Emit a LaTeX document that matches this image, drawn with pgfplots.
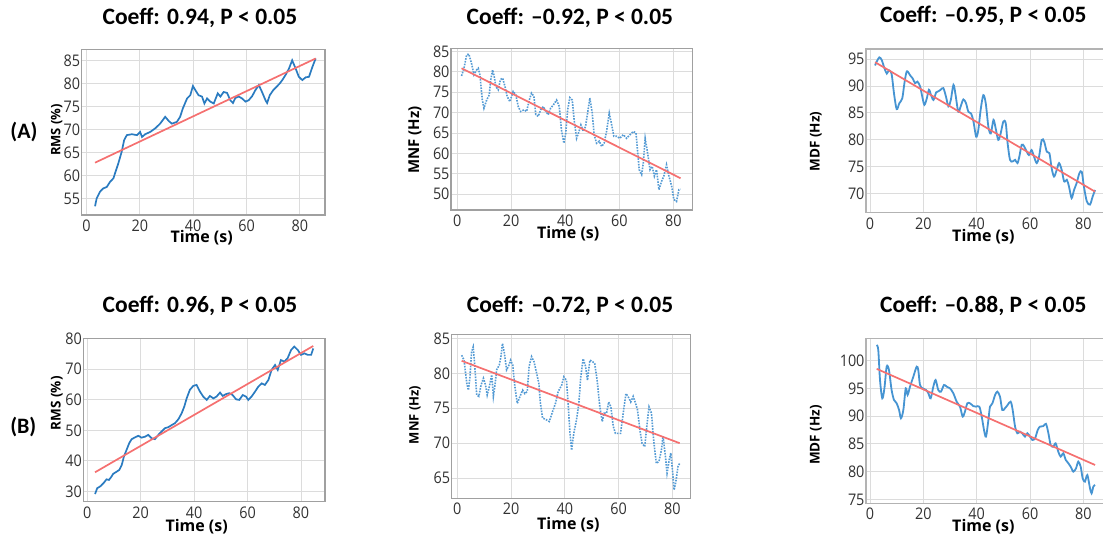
\documentclass[border=0pt]{standalone}
\usepackage{fontspec}
\usepackage{pgfplots}
\pgfplotsset{compat=1.18}
\setmainfont{Carlito}
\newfontfamily\tickfont[FakeStretch=0.9]{Open Sans}
\newfontfamily\labfont{Open Sans}

\definecolor{lineblue}{RGB}{42,123,192}
\definecolor{dotblue}{RGB}{85,155,212}
\definecolor{softblue}{RGB}{70,148,210}
\definecolor{fitred}{RGB}{245,112,112}
\definecolor{framegray}{RGB}{160,160,160}
\definecolor{gridgray}{RGB}{220,220,220}
\definecolor{tickgray}{RGB}{50,50,50}

\pgfplotsset{
  panel/.style={
    scale only axis, anchor=north west,
    axis line style={draw=framegray, line width=1.5pt},
    grid=major, major grid style={draw=gridgray, line width=0.9pt},
    major tick length=0pt,
    xtick={0,20,40,60,80},
    /pgf/number format/assume math mode=true,
    tick label style={font=\tickfont\fontsize{16}{16}\selectfont, text=tickgray},
    xticklabel style={yshift=-1.5pt},
    yticklabel style={xshift=2pt},
    title style={font=\bfseries\fontsize{23.5}{23.5}\selectfont, anchor=center},
    xlabel style={font=\labfont\bfseries\fontsize{16}{16}\selectfont, anchor=center},
    ylabel style={font=\labfont\bfseries\fontsize{13}{13}\selectfont, anchor=center},
    xlabel={Time (s)},
  },
  fitline/.style={draw=fitred, line width=1.7pt, no markers},
}

\begin{document}
\begin{tikzpicture}
\useasboundingbox (0pt,0pt) rectangle (1103pt,-539pt);

% ---- row A ----
\begin{axis}[panel, at={(81.7pt,-49.3pt)}, width=243.3pt, height=165.7pt,
  xmin=-1.8, xmax=89.4, ymin=51.4, ymax=87.5, ytick={55,60,...,85},
  title={Coeff: 0.94, P < 0.05}, title style={at={(axis description cs:0.486,1.153)}},
  xlabel style={at={(axis description cs:0.493,-0.135)}},
  ylabel={RMS (\%)}, ylabel style={at={(axis description cs:-0.103,0.513)}}]
\addplot[draw=lineblue, line width=1.7pt, no markers] coordinates {
(3.2,53.3)(3.8,55.0)(5.1,56.5)(6.3,57.2)(7.6,57.5)(8.8,58.6)(10.1,59.4)(10.7,60.5)(11.9,62.6)(13.2,65.2)(14.1,67.7)(15.1,68.8)(17.0,69.0)(18.9,68.8)(20.1,69.5)(20.8,68.4)(22.0,69.0)(23.9,69.5)(25.8,70.3)(27.6,71.3)(29.5,72.8)(30.8,71.9)(32.0,71.3)(33.9,71.7)(35.1,72.8)(36.1,74.6)(37.7,76.8)(38.9,77.5)(39.9,79.5)(40.8,78.6)(42.0,77.5)(43.3,77.2)(44.2,75.7)(45.2,76.8)(46.4,76.1)(47.7,75.7)(49.2,77.9)(50.2,77.2)(51.4,78.2)(52.7,78.0)(53.9,76.4)(54.9,75.8)(55.8,76.9)(57.1,77.2)(58.3,76.8)(59.6,76.1)(60.8,76.4)(62.1,77.3)(63.3,78.6)(64.6,79.7)(65.8,78.2)(67.1,76.4)(67.7,75.8)(68.7,77.5)(70.0,78.6)(71.2,79.3)(72.5,80.1)(73.4,80.8)(74.6,81.9)(75.9,83.3)(77.1,85.1)(78.4,83.3)(79.6,81.5)(80.9,80.8)(82.2,81.4)(83.4,81.5)(84.7,83.7)(85.9,85.5)};
\addplot[fitline] coordinates {(3.2,62.8)(85.9,85.5)};
\end{axis}

\begin{axis}[panel, at={(451pt,-48.3pt)}, width=241.7pt, height=161.7pt,
  xmin=-2.3, xmax=87.2, ymin=46.1, ymax=85.8, ytick={50,55,...,85},
  title={Coeff: –0.92, P < 0.05}, title style={at={(axis description cs:0.492,1.150)}},
  xlabel style={at={(axis description cs:0.485,-0.144)}},
  ylabel={MNF (Hz)}, ylabel style={at={(axis description cs:-0.149,0.433)}, font=\labfont\bfseries\fontsize{15}{15}\selectfont}]
\addplot[draw=dotblue, line width=1.6pt, dash pattern=on 1.6pt off 1.2pt, no markers] coordinates {
(1.6,79.0)(2.5,80.9)(3.5,84.2)(4.3,84.4)(5.3,82.1)(6.2,79.3)(7.2,80.5)(7.8,80.9)(8.4,79.3)(9.3,73.1)(9.9,71.1)(10.9,73.1)(11.9,74.4)(12.3,77.6)(13.1,80.5)(13.7,78.9)(14.3,76.4)(15.2,75.6)(16.0,78.1)(16.8,78.5)(17.7,76.4)(18.5,74.0)(19.5,72.7)(20.7,75.2)(21.7,74.4)(22.6,71.5)(23.5,70.3)(24.7,70.7)(25.7,70.3)(26.7,73.1)(27.5,74.8)(28.4,74.0)(29.1,69.5)(30.0,69.1)(30.9,70.7)(31.9,71.5)(32.8,70.3)(33.7,69.5)(34.6,71.1)(35.6,71.9)(36.8,73.1)(37.8,71.5)(38.6,65.8)(39.5,62.5)(40.2,65.0)(40.9,70.7)(41.7,73.7)(42.6,73.1)(43.3,68.2)(44.2,63.7)(45.1,65.4)(45.8,67.0)(46.7,65.4)(47.5,66.6)(48.3,69.9)(49.1,73.6)(50.0,69.9)(50.7,64.6)(51.6,62.5)(52.6,63.0)(53.5,61.7)(54.4,62.5)(55.3,65.4)(56.3,69.9)(57.2,67.0)(58.0,64.2)(59.0,64.2)(60.2,63.7)(61.5,64.6)(62.7,63.7)(64.0,64.6)(65.2,65.4)(66.2,65.0)(66.8,60.5)(67.4,56.0)(68.3,54.8)(68.9,57.6)(69.6,63.7)(70.4,60.5)(71.4,56.0)(72.2,56.8)(73.0,54.4)(73.8,56.0)(74.7,51.1)(75.7,53.2)(76.5,54.4)(77.5,57.2)(78.4,54.4)(79.4,52.0)(80.2,48.7)(81.2,48.2)(82.1,51.1)(82.7,51.2)};
\addplot[fitline] coordinates {(1.6,80.9)(82.7,53.9)};
\end{axis}

\begin{axis}[panel, at={(866pt,-49pt)}, width=244pt, height=163.7pt,
  xmin=-1.5, xmax=90, ymin=66.5, ymax=96.85, ytick={70,75,...,95},
  axis line style={draw=framegray!80},
  title={Coeff: –0.95, P < 0.05}, title style={at={(axis description cs:0.481,1.167)}},
  xlabel style={at={(axis description cs:0.481,-0.147)}},
  ylabel={MDF (Hz)}, ylabel style={at={(axis description cs:-0.205,0.434)}, font=\labfont\bfseries\fontsize{13.5}{13.5}\selectfont}]
\addplot[draw=softblue, line width=1.8pt, smooth, no markers] coordinates {
(1.9,93.8)(2.5,94.5)(3.5,95.3)(4.4,94.8)(5.4,93.3)(6.3,92.3)(7.1,92.9)(8.1,92.2)(9.0,88.6)(10.0,85.7)(11.0,86.8)(12.1,87.7)(12.9,90.5)(13.8,92.7)(15.0,92.0)(16.0,91.4)(16.9,90.5)(17.8,90.8)(18.8,89.9)(19.6,88.0)(20.4,86.5)(21.3,87.7)(22.1,89.3)(22.9,88.3)(23.8,87.4)(24.8,88.8)(25.6,89.0)(26.5,89.3)(27.5,89.6)(28.5,88.0)(29.4,86.2)(30.3,87.4)(31.3,90.2)(32.1,88.3)(33.1,85.2)(34.0,86.2)(35.0,87.5)(36.0,86.8)(36.9,85.2)(37.9,84.9)(38.8,83.4)(39.8,80.6)(40.6,81.8)(41.5,85.6)(42.5,88.3)(43.4,86.8)(44.4,82.4)(45.3,81.2)(46.3,83.7)(47.1,82.2)(48.1,80.0)(49.0,81.2)(50.0,83.4)(50.9,83.1)(51.6,79.4)(52.5,76.3)(53.5,76.0)(54.4,76.3)(55.3,75.7)(56.0,76.9)(56.9,79.1)(57.8,78.8)(58.8,77.8)(59.6,77.2)(60.6,78.1)(61.5,76.9)(62.5,75.7)(63.4,76.9)(64.4,80.0)(65.3,79.7)(66.3,77.8)(67.3,77.5)(68.1,74.8)(69.0,73.2)(70.0,74.4)(70.9,75.7)(71.9,74.4)(72.8,72.3)(73.8,72.6)(74.6,71.4)(75.6,69.2)(76.5,70.7)(77.5,72.0)(78.5,73.8)(79.4,74.1)(80.2,71.4)(81.3,68.6)(82.5,68.0)(83.5,69.5)(84.4,70.7)};
\addplot[fitline] coordinates {(1.9,94.4)(84.4,70.4)};
\end{axis}

% ---- row B ----
\begin{axis}[panel, at={(83.3pt,-338.3pt)}, width=241.7pt, height=163.4pt,
  xmin=-1.5, xmax=89.0, ymin=26.7, ymax=80, ytick={30,40,...,80},
  title={Coeff: 0.96, P < 0.05}, title style={at={(axis description cs:0.483,1.163)}},
  xlabel style={at={(axis description cs:0.469,-0.153)}},
  ylabel={RMS (\%)}, ylabel style={at={(axis description cs:-0.110,0.602)}, font=\labfont\bfseries\fontsize{13.5}{13.5}\selectfont}]
\addplot[draw=lineblue, line width=1.7pt, no markers] coordinates {
(2.9,29.2)(3.7,31.1)(5.0,31.8)(6.2,32.9)(7.2,34.0)(8.1,33.8)(8.9,34.7)(9.7,35.8)(11.0,36.5)(12.0,37.1)(12.9,38.7)(13.7,41.4)(14.7,43.6)(15.7,45.8)(16.6,47.1)(17.9,47.7)(19.1,48.2)(20.3,47.6)(21.6,47.9)(22.8,48.5)(24.1,47.4)(25.3,47.1)(26.6,48.5)(27.8,49.6)(29.1,50.7)(30.3,51.0)(31.6,51.7)(32.8,52.3)(34.1,53.6)(35.3,55.5)(36.3,57.7)(37.2,60.4)(38.4,63.2)(39.7,64.5)(40.9,64.8)(42.2,62.6)(43.4,61.0)(44.7,59.9)(45.9,61.2)(47.2,60.4)(48.4,61.0)(49.7,62.3)(50.7,61.2)(51.9,61.8)(53.2,62.1)(54.4,61.5)(55.7,60.1)(56.9,59.9)(58.2,61.5)(59.4,61.0)(60.3,59.9)(61.5,61.0)(62.8,62.6)(64.0,64.2)(65.3,65.3)(66.5,64.8)(67.8,66.4)(69.0,69.7)(70.3,71.3)(71.3,69.7)(72.5,72.9)(73.8,72.4)(75.0,73.5)(76.3,76.2)(77.5,77.3)(78.8,76.2)(80.0,74.6)(81.3,75.1)(82.5,74.6)(83.8,74.6)(84.6,76.7)};
\addplot[fitline] coordinates {(2.9,36.3)(84.6,77.5)};
\end{axis}

\begin{axis}[panel, at={(451.7pt,-334.3pt)}, width=239pt, height=164pt,
  xmin=-2.1, xmax=86.8, ymin=62.1, ymax=85.6, ytick={65,70,...,85},
  title={Coeff: –0.72, P < 0.05}, title style={at={(axis description cs:0.495,1.138)}},
  xlabel style={at={(axis description cs:0.488,-0.163)}},
  ylabel={MNF (Hz)}, ylabel style={at={(axis description cs:-0.154,0.508)}}]
\addplot[draw=dotblue, line width=1.6pt, dash pattern=on 1.6pt off 1.2pt, no markers] coordinates {
(1.6,82.6)(2.5,81.9)(3.5,78.6)(4.1,77.6)(4.7,79.5)(5.3,83.1)(5.9,83.8)(6.5,81.0)(7.2,76.9)(8.0,76.7)(8.8,78.3)(9.7,79.3)(10.5,78.3)(11.1,76.9)(11.9,78.1)(12.8,79.8)(13.4,76.7)(14.0,78.3)(14.6,80.5)(15.6,81.2)(16.2,82.4)(16.8,84.3)(17.5,82.9)(18.3,80.5)(19.0,81.0)(19.8,81.9)(20.6,81.2)(21.4,78.1)(22.3,75.7)(23.3,76.7)(24.3,77.6)(25.1,77.1)(26.0,77.4)(26.7,81.0)(27.6,82.4)(28.5,81.7)(29.5,80.0)(30.3,78.6)(30.9,75.7)(31.7,73.6)(32.9,73.4)(34.2,73.1)(35.4,74.5)(36.5,75.7)(37.5,77.4)(38.8,78.3)(39.6,79.5)(40.6,79.0)(41.2,75.7)(41.9,71.4)(42.5,69.0)(43.3,71.4)(44.3,73.3)(45.2,75.7)(45.9,79.5)(46.8,82.1)(47.7,81.0)(48.4,79.0)(49.3,81.9)(50.3,81.7)(51.1,81.4)(52.0,79.0)(53.0,75.2)(53.9,73.1)(54.6,74.3)(55.5,74.3)(56.3,75.9)(57.1,75.2)(58.0,72.4)(58.8,71.4)(59.8,71.4)(60.7,71.4)(61.7,74.3)(62.7,77.1)(63.5,76.7)(64.5,75.9)(65.4,76.7)(66.3,75.7)(67.0,74.8)(67.9,71.9)(68.7,70.0)(69.7,69.5)(70.6,72.9)(71.3,75.2)(72.2,74.3)(73.0,70.5)(74.0,67.1)(75.0,67.4)(75.9,69.0)(76.5,71.0)(77.4,68.1)(78.0,65.7)(78.8,67.6)(79.4,68.6)(80.0,66.2)(80.6,63.3)(81.2,64.3)(82.1,66.7)(82.7,67.1)};
\addplot[fitline] coordinates {(1.6,81.8)(82.7,70.0)};
\end{axis}

\begin{axis}[panel, at={(866pt,-338.3pt)}, width=244pt, height=165pt,
  xmin=-1.5, xmax=90, ymin=74.3, ymax=104.0, ytick={75,80,...,100},
  axis line style={draw=framegray!80},
  title={Coeff: –0.88, P < 0.05}, title style={at={(axis description cs:0.481,1.161)}},
  xlabel style={at={(axis description cs:0.481,-0.142)}},
  ylabel={MDF (Hz)}, ylabel style={at={(axis description cs:-0.205,0.414)}, font=\labfont\bfseries\fontsize{13.5}{13.5}\selectfont}]
\addplot[draw=softblue, line width=1.8pt, smooth, no markers] coordinates {
(2.5,102.8)(3.1,101.9)(3.75,96.5)(4.6,93.2)(5.4,95.0)(6.25,98.9)(7.1,98.3)(8.1,94.7)(9.0,92.9)(10.0,92.3)(10.9,91.1)(11.6,89.6)(12.5,91.1)(13.4,95.0)(14.1,93.8)(15.0,95.3)(16.25,97.1)(17.5,98.9)(18.1,98.3)(18.75,95.6)(19.75,95.0)(21.0,94.7)(21.9,94.1)(22.75,93.2)(23.75,95.3)(24.6,96.5)(25.6,94.7)(26.6,94.4)(27.75,95.6)(28.75,95.3)(30.0,95.0)(31.25,94.1)(32.5,92.6)(33.75,91.7)(34.75,89.9)(35.6,90.8)(36.5,92.3)(37.5,92.3)(38.75,91.8)(39.75,91.7)(41.0,91.7)(41.9,89.9)(42.75,87.5)(43.5,86.3)(44.4,89.3)(45.0,91.7)(45.9,92.3)(46.9,93.8)(47.75,94.4)(48.75,93.5)(49.6,91.1)(50.6,91.4)(51.6,92.0)(52.75,92.6)(53.5,91.1)(54.4,88.1)(55.25,86.9)(56.25,87.2)(57.1,86.9)(58.1,86.3)(59.0,86.9)(60.0,86.3)(60.9,85.7)(61.9,86.0)(62.9,87.5)(63.75,88.1)(65.0,88.2)(66.0,88.6)(66.9,86.9)(67.75,84.8)(68.75,84.5)(69.6,85.1)(70.6,83.6)(71.5,82.7)(72.5,83.3)(73.4,82.1)(74.4,81.5)(75.25,80.9)(76.25,80.0)(77.25,80.6)(78.1,81.8)(79.0,80.9)(79.75,78.8)(80.6,78.2)(81.5,79.4)(82.5,77.0)(83.1,76.1)(83.75,77.3)(84.4,77.6)};
\addplot[fitline] coordinates {(2.5,98.5)(84.4,81.2)};
\end{axis}

\node[font=\bfseries\fontsize{22}{22}\selectfont] at (24pt,-131.7pt) {(A)};
\node[font=\bfseries\fontsize{22}{22}\selectfont] at (23.3pt,-426.7pt) {(B)};
\end{tikzpicture}
\end{document}
